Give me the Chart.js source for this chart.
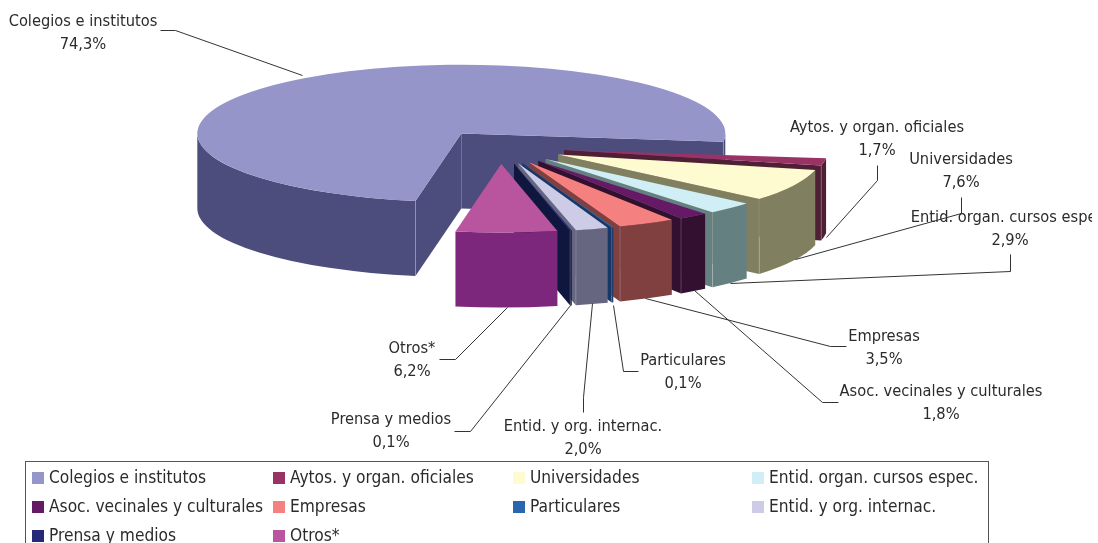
<!DOCTYPE html>
<html>
<head>
<meta charset="utf-8">
<style>
  html, body { margin: 0; padding: 0; background: #fff; overflow: hidden; }
  canvas { display: block; }
</style>
<script src="https://cdn.jsdelivr.net/npm/chart.js@4"></script>
</head>
<body>
<canvas id="tarta" width="1098" height="543"></canvas>
<script>
'use strict';

/* Datos */
var categorias = ['Colegios e institutos', 'Aytos. y organ. oficiales', 'Universidades', 'Entid. organ. cursos espec.',
  'Asoc. vecinales y culturales', 'Empresas', 'Particulares', 'Entid. y org. internac.', 'Prensa y medios', 'Otros*'];
var valores = [74.3, 1.7, 7.6, 2.9, 1.8, 3.5, 0.1, 2.0, 0.1, 6.2];
var etiquetas = ['74,3%', '1,7%', '7,6%', '2,9%', '1,8%', '3,5%', '0,1%', '2,0%', '0,1%', '6,2%'];

/* Colores: cara superior y pared */
var coloresTapa = ['#9595ca', '#993366', '#fffbd0', '#d0eef5', '#661a66', '#f58080', '#2a66b0', '#cdcbe6', '#26297a', '#b9559f'];
var coloresPared = ['#4d4d7d', '#4f1f36', '#808060', '#658080', '#33102f', '#804040', '#173766', '#666680', '#10173f', '#7c267c'];

/* Colocacion a mano de los textos y sus lineas guia */
var textoX = [83, 877, 961, 1010, 941, 884, 683, 583, 391, 412];
var textoY = [22, 128, 160, 218, 392, 337, 361, 427, 420, 349];
var guias = [
  [[160, 30], [175, 30], [302, 75]],
  [[877, 165], [877, 180], [826, 237]],
  [[961, 197], [961, 213], [795, 259]],
  [[1010, 254], [1010, 271], [730, 283]],
  [[838, 402], [822, 402], [694, 290]],
  [[846, 346], [830, 346], [645, 298]],
  [[638, 371], [623, 371], [613, 305]],
  [[583, 412], [583, 397], [592, 303]],
  [[454, 431], [470, 431], [570, 305]],
  [[439, 359], [455, 359], [507, 307]]
];
var leyendaX = [32, 273, 513, 752];
var leyendaY = [479, 508, 537];

var RADIO = 264;
var APLASTADO = 0.26;
var ALTO = 75;
var SEPARACION = 65;
var FUENTE = '"DejaVu Sans Condensed", "Noto Sans", sans-serif';

function pared(ctx, x, y, ang, dz) {
  var bx = x + Math.cos(ang) * RADIO;
  var by = y + Math.sin(ang) * RADIO;
  ctx.beginPath();
  ctx.moveTo(x, y);
  ctx.lineTo(bx, by);
  ctx.lineTo(bx, by + dz);
  ctx.lineTo(x, y + dz);
  ctx.closePath();
  ctx.fill();
}

// filo claro en la esquina de la pared
function filo(ctx, x, y, ang, dz) {
  var bx = x + Math.cos(ang) * RADIO;
  var by = y + Math.sin(ang) * RADIO;
  ctx.strokeStyle = 'rgba(255,255,255,0.3)';
  ctx.lineWidth = 1;
  ctx.beginPath();
  ctx.moveTo(bx, by);
  ctx.lineTo(bx, by + dz);
  ctx.stroke();
}

function paredCurva(ctx, x, y, a, b, dz) {
  ctx.beginPath();
  ctx.arc(x, y, RADIO, a, b);
  ctx.arc(x, y + dz, RADIO, b, a, true);
  ctx.closePath();
  ctx.fill();
}

function dibujarParedes(ctx, arco, color) {
  var ini = arco.startAngle, fin = arco.endAngle;
  var dz = ALTO / APLASTADO;
  ctx.fillStyle = color;
  if (Math.cos(ini) < 0) { pared(ctx, arco.x, arco.y, ini, dz); }
  if (Math.cos(fin) > 0) { pared(ctx, arco.x, arco.y, fin, dz); }
  // solo se ve la parte delantera del borde (seno positivo)
  for (var k = -1; k <= 2; k++) {
    var a = Math.max(ini, k * 2 * Math.PI);
    var b = Math.min(fin, k * 2 * Math.PI + Math.PI);
    if (b > a) { paredCurva(ctx, arco.x, arco.y, a, b, dz); }
  }
  if (Math.cos(ini) < 0) { filo(ctx, arco.x, arco.y, ini, dz); }
  if (Math.cos(fin) > 0) { filo(ctx, arco.x, arco.y, fin, dz); }
}

var tarta3d = {
  id: 'tarta3d',
  beforeDatasetDraw: function(chart) {
    var ctx = chart.ctx;
    var arcos = chart.getDatasetMeta(0).data;
    var cy = arcos[0].y;
    ctx.save();
    ctx.translate(0, cy);
    ctx.scale(1, APLASTADO);
    ctx.translate(0, -cy);
    // de atras hacia delante, cada porcion separada del centro
    arcos.forEach(function(arco, i) {
      var medio = (arco.startAngle + arco.endAngle) / 2;
      ctx.save();
      ctx.translate(Math.cos(medio) * SEPARACION, Math.sin(medio) * SEPARACION);
      dibujarParedes(ctx, arco, coloresPared[i]);
      arco.draw(ctx);
      ctx.restore();
    });
    ctx.restore();
    return false;
  },
  afterDraw: function(chart) {
    var ctx = chart.ctx;
    ctx.save();

    // lineas guia
    ctx.strokeStyle = '#333';
    ctx.lineWidth = 1;
    guias.forEach(function(g) {
      ctx.beginPath();
      ctx.moveTo(g[0][0] + 0.5, g[0][1] + 0.5);
      ctx.lineTo(g[1][0] + 0.5, g[1][1] + 0.5);
      ctx.lineTo(g[2][0] + 0.5, g[2][1] + 0.5);
      ctx.stroke();
    });

    // etiquetas
    ctx.save();
    ctx.beginPath();
    ctx.rect(0, 0, 1092, 543);
    ctx.clip();
    ctx.fillStyle = '#2b2b2b';
    ctx.font = '16.3px ' + FUENTE;
    ctx.textAlign = 'center';
    ctx.textBaseline = 'middle';
    categorias.forEach(function(cat, i) {
      ctx.fillText(cat, textoX[i], textoY[i]);
      ctx.fillText(etiquetas[i], textoX[i], textoY[i] + 23);
    });
    ctx.restore();

    // leyenda
    ctx.strokeStyle = '#555';
    ctx.strokeRect(25.5, 461.5, 963, 100);
    ctx.textAlign = 'left';
    ctx.textBaseline = 'middle';
    ctx.font = '17.2px ' + FUENTE;
    categorias.forEach(function(cat, i) {
      var x = leyendaX[i % 4];
      var y = leyendaY[Math.floor(i / 4)];
      ctx.fillStyle = coloresTapa[i];
      ctx.fillRect(x, y - 7, 12, 12);
      ctx.fillStyle = '#2b2b2b';
      ctx.fillText(cat, x + 17, y);
    });
    ctx.restore();
  }
};

new Chart(document.getElementById('tarta').getContext('2d'), {
  type: 'pie',
  data: {
    labels: categorias,
    datasets: [{
      data: valores,
      backgroundColor: coloresTapa,
      borderWidth: 0,
      clip: false
    }]
  },
  options: {
    responsive: false,
    animation: false,
    rotation: 190,
    radius: RADIO,
    layout: { padding: { left: 0, top: 0, right: 98, bottom: 249 } },
    plugins: { legend: { display: false }, tooltip: { enabled: false } }
  },
  plugins: [tarta3d]
});
</script>
</body>
</html>
